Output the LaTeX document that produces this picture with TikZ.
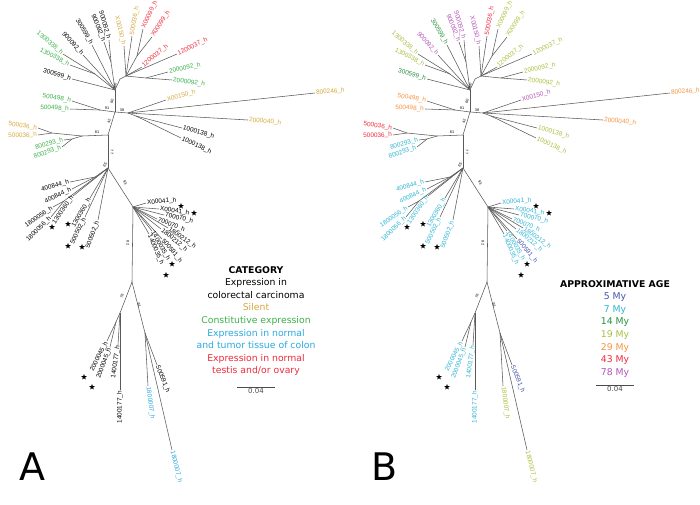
\documentclass[tikz,border=0pt]{standalone}
\usepackage{fontspec}
\newfontfamily\tipfont{Liberation Sans}
\newfontfamily\legfont{DejaVu Sans}
\usetikzlibrary{shapes.geometric}
\definecolor{catsil}{HTML}{D6A83E}
\definecolor{catcon}{HTML}{3BB04A}
\definecolor{catnor}{HTML}{2AA9E0}
\definecolor{cattes}{HTML}{EE2A3A}
\definecolor{my5}{HTML}{4453A8}
\definecolor{my7}{HTML}{2DB4D2}
\definecolor{my14}{HTML}{25913C}
\definecolor{my19}{HTML}{A8BE3E}
\definecolor{my29}{HTML}{F7923F}
\definecolor{my43}{HTML}{EE2A3A}
\definecolor{my78}{HTML}{B453B4}
\tikzstyle{treeline}=[draw=black!65,line width=0.55pt]
\tikzstyle{tiplabel}=[font=\tipfont\fontsize{6.4}{7}\selectfont,inner sep=1pt]
\tikzstyle{bootval}=[font=\tipfont\fontsize{3.8}{4}\selectfont,inner sep=0pt]
\tikzstyle{starmark}=[star,star points=5,star point ratio=2.4,fill=black,inner sep=0pt,minimum size=6pt]
\tikzstyle{legtext}=[font=\legfont\fontsize{9.3}{11}\selectfont,anchor=base,inner sep=0pt]
% parent/x/y/rotation/anchor/label/colour in A/colour in B
\def\leaflist{%
T0/72/79/-15/east/300599\_h/black/my14,
P1300/63/54/-40/east/1300338\_h/catcon/my19,
P1300/70/65/-27/east/1300338\_h/catcon/my19,
T0/83/55/-48/east/900092\_h/black/my78,
T0/92/45/-60/east/300599\_h/black/my14,
P900/104/42/-68/east/900092\_h/black/my78,
P900/109/40/-74/east/900092\_h/black/my78,
TR/124/46/-76/east/X00150\_h/catsil/my78,
TR/132/36/80/west/500036\_h/catsil/my43,
PX99/143/29/65/west/X00099\_h/cattes/my19,
PX99/152/37/57/west/X00099\_h/cattes/my19,
TR/142/67/40/west/1200037\_h/cattes/my19,
TR/177/54/25/west/1200037\_h/cattes/my19,
P20/168/72/12/west/2000092\_h/catcon/my19,
P20/172/80/-8/west/2000092\_h/catcon/my19,
M/166/100/15/west/X00150\_h/catsil/my78,
M/315/93/5/west/800246\_h/catsil/my29,
M/248/120/-5/west/2000040\_h/catsil/my29,
P10/182/128/-15/west/1000138\_h/black/my19,
P10/181/138/-25/west/1000138\_h/black/my19,
N498/72/101/-10/east/500498\_h/catcon/my29,
N498/70/109/-3/east/500498\_h/catcon/my29,
N36/38/128/-8/east/500036\_h/catsil/my43,
N36/38/135/2/east/500036\_h/catsil/my43,
P8/64/140/15/east/800293\_h/catcon/my7,
P8/62/147/20/east/800293\_h/catcon/my7,
P4/70/182/15/east/400844\_h/black/my7,
P4/72/189/25/east/400844\_h/black/my7,
P18/53/207/35/east/1800056\_h/black/my7,
P18/51/217/45/east/1800056\_h/black/my7,
B3/73/196/55/east/1300360\_h/black/my7,
B3/90/198/60/east/1300360\_h/black/my7,
B3/85/217/65/east/500502\_h/black/my7,
B3/98/220/70/east/500502\_h/black/my7,
R/146/203/5/west/X00041\_h/black/my7,
R/159/209/-8/west/X00041\_h/black/my7,
R/164/215/-12/west/700070\_h/black/my7,
R/157/219/-22/west/700070\_h/black/my7,
R/168/228/-35/west/1800212\_h/black/my7,
R/161/229/-40/west/1800212\_h/black/my7,
R/162/239/-50/west/500591\_h/black/my5,
R/152/231/-60/west/1400035\_h/black/my7,
R/149/234/-67/west/1400035\_h/black/my7,
P45/107/341/63/east/2000045\_h/black/my7,
P45/110/347/70/east/2000045\_h/black/my7,
NL/118/345/82/east/1400177\_h/black/my7,
NL/120/390/90/east/1400177\_h/black/my7,
NR/157/365/-68/west/500591\_h/black/my5,
NR/148/386/-82/west/1800007\_h/catnor/my19,
NR/172/450/-76/west/1800007\_h/catnor/my19}

\begin{document}
\begin{tikzpicture}[x=1pt,y=-1pt]
  \useasboundingbox (0,0) rectangle (700,504);
  % the same tree twice: A by category, B by age
  \foreach \p/\dx/\k in {A/0/1,B/355/2}{
  \begin{scope}[xshift=\dx]
    \foreach \n/\x/\y in {C/115/112,T0/115/90,T1/120/79,P1300/95/74,P900/111/62,
        TR/126/76,PX99/137/56,P20/146/78,M/128/113,P10/136/116,N498/100/110,
        B2/108/135,N8/82/136,N36/52/133,P8/72/139,B3/108/168,P4/95/177,
        P18/64/201,R/133/207,Bot/132/282,NL/120/313,P45/116/322,NR/145/333}
      \coordinate (\p\n) at (\x,\y);
    \foreach \a/\b in {C/T0,T0/T1,T0/P1300,T0/P900,T1/TR,TR/PX99,TR/P20,C/M,
        M/P10,C/N498,C/B2,B2/N8,N8/N36,N8/P8,B2/B3,B3/P4,B3/P18,B3/R,
        R/Bot,Bot/NL,NL/P45,Bot/NR}
      \draw[treeline] (\p\a) -- (\p\b);
    % tips and their labels
    \foreach \up/\x/\y/\rot/\an/\txt/\ca/\cb [count=\i] in \leaflist {
      \ifnum\k=1 \let\lcol\ca \else \let\lcol\cb \fi
      \coordinate (\p t\i) at (\x,\y);
      \draw[treeline] (\p\up) -- (\p t\i);
      \node[tiplabel,rotate=\rot,anchor=\an,text=\lcol] (\p lab\i) at (\p t\i) {\txt};
    }
    % bootstrap values
    \foreach \x/\y/\rot/\v [count=\i] in {115/86/80/100,112/101/80/60,107/108/0/91,
        122/110/0/38,109/121/78/42,97/132/0/81,112/152/-90/77,105/165/55/65,
        125/183/-57/93,128/243/-90/82,122/296/70/76,139/305/-70/91}
      \node[bootval,rotate=\rot] (\p bs\i) at (\x,\y) {\v};
    % stars
    \foreach \x/\y [count=\i] in {52/227,68/224,68/246,82/247,181/206,194/213,
        172/264,166/275,84/377,92/387}
      \node[starmark] (\p st\i) at (\x,\y) {};
  \end{scope}
  }
  % legend A
  \node[legtext,font=\legfont\bfseries\fontsize{9.3}{11}\selectfont] (cattitle) at (256,273) {CATEGORY};
  \foreach \t/\col [count=\i] in {Expression in/black,colorectal carcinoma/black,
      Silent/catsil,Constitutive expression/catcon,Expression in normal/catnor,
      and tumor tissue of colon/catnor,Expression in normal/cattes,
      {testis and/or ovary}/cattes}
    \node[legtext,text=\col] (cat\i) at (256,273+12.6*\i) {\t};
  \coordinate (sbA1) at (237,387);
  \coordinate (sbA2) at (275,387);
  \draw[black!70,line width=0.6pt] (sbA1) -- node[below=1pt,inner sep=0pt,font=\legfont\fontsize{7}{8}\selectfont] (sbAlab) {0.04} (sbA2);
  % legend B
  \node[legtext,font=\legfont\bfseries\fontsize{9.3}{11}\selectfont] (agetitle) at (615,287) {APPROXIMATIVE AGE};
  \foreach \t/\col [count=\i] in {5 My/my5,7 My/my7,14 My/my14,19 My/my19,
      29 My/my29,43 My/my43,78 My/my78}
    \node[legtext,text=\col] (age\i) at (615,287+12.6*\i) {\t};
  \coordinate (sbB1) at (596,385);
  \coordinate (sbB2) at (634,385);
  \draw[black!70,line width=0.6pt] (sbB1) -- node[below=1pt,inner sep=0pt,font=\legfont\fontsize{7}{8}\selectfont] (sbBlab) {0.04} (sbB2);
  % panel letters
  \node[legtext,font=\legfont\fontsize{38}{40}\selectfont] (panelA) at (32,480) {A};
  \node[legtext,font=\legfont\fontsize{38}{40}\selectfont] (panelB) at (385,480) {B};
\end{tikzpicture}
\end{document}
